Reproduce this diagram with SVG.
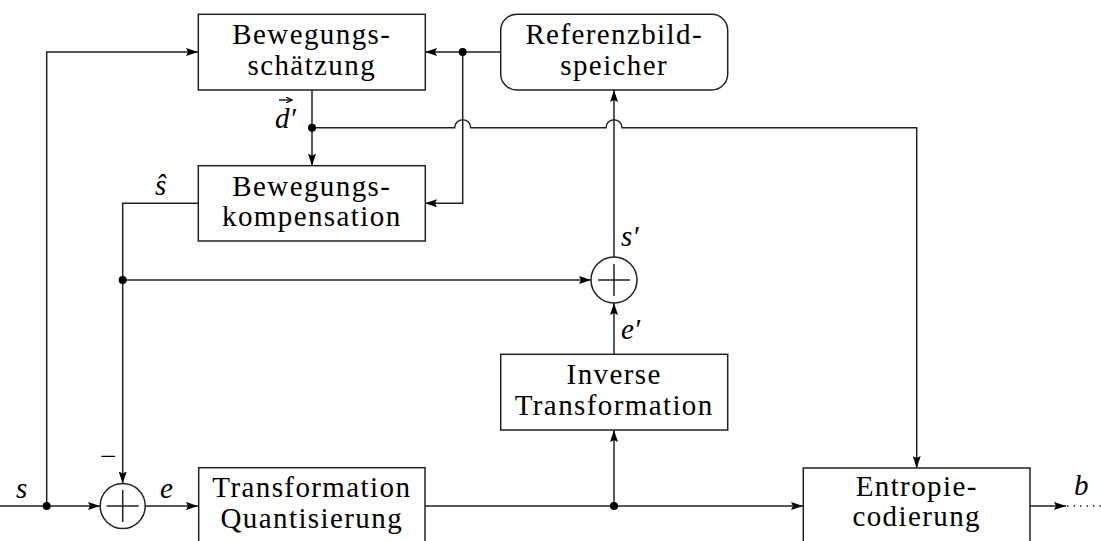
<svg xmlns="http://www.w3.org/2000/svg" width="1101" height="541" viewBox="0 0 1101 541">
  <style>
    .box { fill: #fff; stroke: #222; stroke-width: 1.5; }
    .wire { fill: none; stroke: #222; stroke-width: 1.5; }
    .arr { marker-end: url(#head); }
    .dot { fill: #000; }
    .lbl { font-family: 'Liberation Serif', 'DejaVu Serif', 'Times New Roman', serif; font-size: 29px; letter-spacing: 1.4px; fill: #000; text-anchor: middle; }
    .math { font-family: 'Liberation Serif', 'DejaVu Serif', 'Times New Roman', serif; font-style: italic; font-size: 29px; fill: #000; }
  </style>
  <defs>
    <marker id="head" markerWidth="13" markerHeight="8" refX="12" refY="4" orient="auto" markerUnits="userSpaceOnUse">
      <path d="M0,0 L12,4 L0,8 L2,4 Z" fill="#000"/>
    </marker>
    <marker id="vec" markerWidth="7" markerHeight="6" refX="6" refY="3" orient="auto" markerUnits="userSpaceOnUse">
      <path d="M0,0 L6,3 L0,6" fill="none" stroke="#000" stroke-width="1.2"/>
    </marker>
  </defs>

  <rect width="1101" height="541" fill="#fff"/>

  <!-- connectors -->
  <g id="connectors">
    <!-- input s into the subtractor -->
    <path class="wire arr" d="M0,506 H100"/>
    <!-- s branch up to motion estimation -->
    <path class="wire arr" d="M46.7,506 V52 H198"/>
    <!-- prediction error e -->
    <path class="wire arr" d="M145.2,506 H198"/>
    <!-- prediction s-hat down to subtractor -->
    <path class="wire arr" d="M198,203.3 H122.7 V483.5"/>
    <!-- prediction to reconstruction adder -->
    <path class="wire arr" d="M122.7,280 H591"/>
    <!-- quantised coefficients to entropy coder -->
    <path class="wire arr" d="M425,506 H803"/>
    <!-- branch to inverse transform -->
    <path class="wire arr" d="M614,506 V430"/>
    <!-- e' to adder -->
    <path class="wire arr" d="M614,354 V303"/>
    <!-- s' to reference frame memory -->
    <path class="wire arr" d="M614,257 V90"/>
    <!-- reference frame to motion estimation -->
    <path class="wire arr" d="M500.7,52 H425"/>
    <!-- reference frame to motion compensation -->
    <path class="wire arr" d="M462.7,52 V203.3 H425"/>
    <!-- motion vector to compensation -->
    <path class="wire arr" d="M312,90 V165.7"/>
    <!-- motion vector to entropy coder, hopping over two wires -->
    <path class="wire arr" d="M312,127.7 H454.7 A8,8 0 0 1 470.7,127.7 H606 A8,8 0 0 1 622,127.7 H916.7 V468"/>
    <!-- bitstream out -->
    <path class="wire arr" d="M1030,506 H1066"/>
    <path class="wire" d="M1067,506 H1101" stroke-dasharray="1.5,5"/>

    <!-- junction dots -->
    <circle class="dot" cx="46.7" cy="506" r="4"/>
    <circle class="dot" cx="122.7" cy="280" r="4"/>
    <circle class="dot" cx="614" cy="506" r="4"/>
    <circle class="dot" cx="462.7" cy="52" r="4"/>
    <circle class="dot" cx="312" cy="127.7" r="4"/>
  </g>

  <!-- nodes -->
  <g id="motion-estimation">
    <rect class="box" x="198.3" y="14.3" width="227" height="75.7"/>
    <text class="lbl" x="311.8" y="44">Bewegungs-</text>
    <text class="lbl" x="311.8" y="74.5">schätzung</text>
  </g>

  <g id="reference-memory">
    <rect class="box" x="500.7" y="14.3" width="227" height="75.7" rx="16" ry="16"/>
    <text class="lbl" x="614.2" y="44">Referenzbild-</text>
    <text class="lbl" x="614.2" y="74.5">speicher</text>
  </g>

  <g id="motion-compensation">
    <rect class="box" x="198.3" y="165.7" width="227" height="75.3"/>
    <text class="lbl" x="311.8" y="195.5">Bewegungs-</text>
    <text class="lbl" x="311.8" y="226">kompensation</text>
  </g>

  <g id="adder-reconstruction">
    <circle class="box" cx="614" cy="280" r="23"/>
    <path class="wire" d="M598,280 H630 M614,264 V296"/>
  </g>

  <g id="inverse-transform">
    <rect class="box" x="500.7" y="354.3" width="227" height="75.7"/>
    <text class="lbl" x="614.2" y="384">Inverse</text>
    <text class="lbl" x="614.2" y="415">Transformation</text>
  </g>

  <g id="subtractor">
    <circle class="box" cx="122.7" cy="506" r="22.5"/>
    <path class="wire" d="M106.7,506 H138.7 M122.7,490 V522"/>
  </g>

  <g id="transform-quantisation">
    <rect class="box" x="198.7" y="467.7" width="226.3" height="80"/>
    <text class="lbl" x="311.8" y="496.5">Transformation</text>
    <text class="lbl" x="311.8" y="527.5">Quantisierung</text>
  </g>

  <g id="entropy-coder">
    <rect class="box" x="803.3" y="468" width="226.7" height="80"/>
    <text class="lbl" x="916.7" y="495.5">Entropie-</text>
    <text class="lbl" x="916.7" y="526">codierung</text>
  </g>

  <!-- signal labels -->
  <g id="labels">
    <text class="math" x="16" y="498">s</text>
    <text class="math" x="160" y="498">e</text>
    <text class="math" x="98" y="466" font-style="normal">−</text>
    <text class="math" x="155" y="195">ŝ</text>
    <text class="math" x="275" y="128">d′</text>
    <!-- vector accent over d -->
    <path d="M279,100 H292" fill="none" stroke="#000" stroke-width="1.3" marker-end="url(#vec)"/>
    <text class="math" x="621" y="246">s′</text>
    <text class="math" x="621" y="339">e′</text>
    <text class="math" x="1074" y="495">b</text>
  </g>
</svg>
